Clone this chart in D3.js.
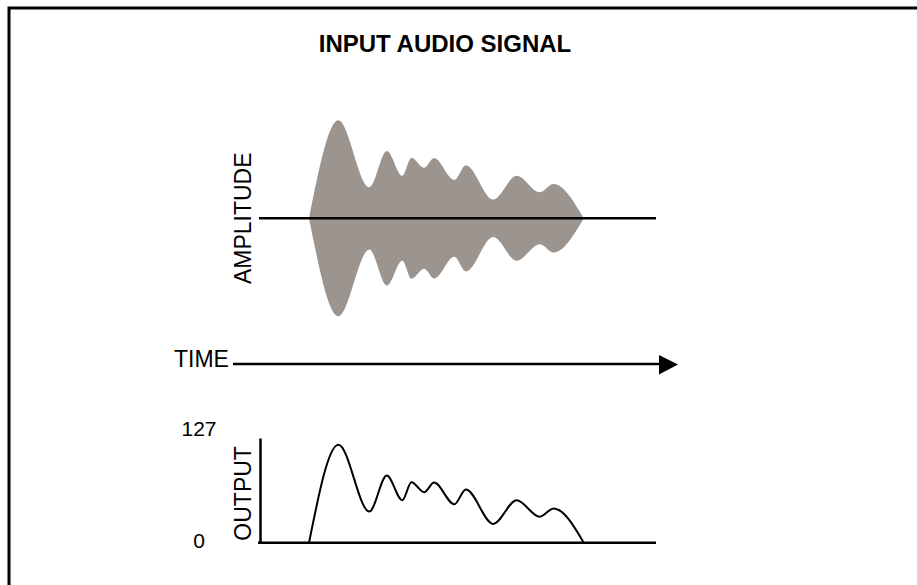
<!DOCTYPE html>
<html>
<head>
<meta charset="utf-8">
<script src="https://cdn.jsdelivr.net/npm/d3@7"></script>
<style>
  html, body { margin: 0; padding: 0; background: #fff; }
  svg { display: block; font-family: "Liberation Sans", Arial, Helvetica, sans-serif; }
</style>
</head>
<body>
<script>
// ---- data ----
const title = "INPUT AUDIO SIGNAL";
const timePoints = [12.6, 20, 27.8, 32.2, 36.1, 38.4, 41.6, 44.1, 49.2, 52.1, 59, 64.9, 70.7, 74.2, 81.8];
const levels     = [0, 118.9, 37.8, 81.5, 51.5, 73.4, 61.2, 73, 46.6, 64.5, 22.8, 51.5, 31.5, 41.5, 0];
const outputTicks = [0, 127];
const labels = { amp: "AMPLITUDE", time: "TIME", out: "OUTPUT" };

const W = 917, H = 585;
const svg = d3.select("body").append("svg").attr("width", W).attr("height", H);

// frame (clipped on right/bottom)
svg.append("path")
  .attr("d", `M9,${H + 10} L9,8 L${W + 10},8`)
  .attr("fill", "none").attr("stroke", "#000").attr("stroke-width", 3);

svg.append("text").attr("x", 445).attr("y", 52)
  .attr("text-anchor", "middle").attr("font-weight", "bold")
  .attr("font-size", 24).text(title);

const data = timePoints.map((t, i) => ({ t, v: levels[i] }));

const x = d3.scaleLinear().domain([0, 100]).range([259, 656]);
const yAmp = d3.scaleLinear().domain([-127, 127]).range([323, 113.6]);
const yOut = d3.scaleLinear().domain([0, 127]).range([542.7, 438]);

// envelope
const area = d3.area()
  .x(d => x(d.t))
  .y0(d => yAmp(-d.v))
  .y1(d => yAmp(d.v))
  .curve(d3.curveMonotoneX);
svg.append("path").datum(data).attr("d", area).attr("fill", "#9c958f");

svg.append("line")
  .attr("x1", x(0)).attr("x2", x(100))
  .attr("y1", yAmp(0)).attr("y2", yAmp(0))
  .attr("stroke", "#000").attr("stroke-width", 2.5);

svg.append("text")
  .attr("transform", `translate(251,${yAmp(0)}) rotate(-90)`)
  .attr("text-anchor", "middle").attr("font-size", 23).text(labels.amp);

// time arrow
svg.append("text").attr("x", 174).attr("y", 367).attr("font-size", 23).text(labels.time);
svg.append("line").attr("x1", 233).attr("x2", 662).attr("y1", 364).attr("y2", 364)
  .attr("stroke", "#000").attr("stroke-width", 2.5);
svg.append("path").attr("d", "M659,355 L678,364.5 L659,374.5 Z").attr("fill", "#000");

// output plot
const gAxisY = svg.append("g").attr("transform", `translate(260,0)`)
  .call(d3.axisLeft(yOut).tickValues(outputTicks).tickSize(0).tickFormat(() => ""));
gAxisY.select(".domain").attr("stroke", "#000").attr("stroke-width", 2.5);

svg.append("line")
  .attr("x1", 258).attr("x2", 656)
  .attr("y1", yOut(0)).attr("y2", yOut(0))
  .attr("stroke", "#000").attr("stroke-width", 2.5);

svg.selectAll("text.tick-lab").data(outputTicks).enter().append("text")
  .attr("class", "tick-lab")
  .attr("x", 199)
  .attr("y", d => d === 0 ? yOut(d) + 5 : yOut(d) - 2)
  .attr("text-anchor", "middle").attr("font-size", 21).text(d => d);

svg.append("text")
  .attr("transform", `translate(251,${(yOut(0) + yOut(127)) / 2 + 3}) rotate(-90)`)
  .attr("text-anchor", "middle").attr("font-size", 23).text(labels.out);

const line = d3.line().x(d => x(d.t)).y(d => yOut(d.v)).curve(d3.curveMonotoneX);
svg.append("path").datum(data).attr("d", line)
  .attr("fill", "none").attr("stroke", "#000").attr("stroke-width", 2);
</script>
</body>
</html>
